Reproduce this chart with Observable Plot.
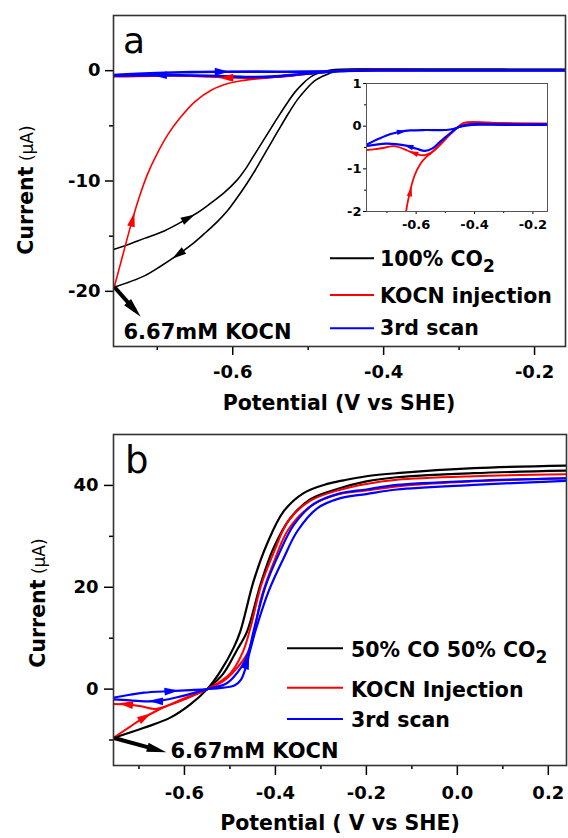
<!DOCTYPE html>
<html>
<head>
<meta charset="utf-8">
<script src="https://cdn.jsdelivr.net/npm/d3@7"></script>
<script src="https://cdn.jsdelivr.net/npm/@observablehq/plot@0.6"></script>
<style>
  html, body { margin: 0; padding: 0; background: #ffffff; }
  #wrap { position: relative; width: 568px; height: 838px; overflow: hidden; background:#fff; }
  #wrap svg { position: absolute; }
</style>
</head>
<body>
<div id="wrap"></div>
<script>
// ================= DATA =================
const seriesA = ["100% CO2", "KOCN injection", "3rd scan"];
const seriesB = ["50% CO 50% CO2", "KOCN Injection", "3rd scan"];
const seriesColors = ["#000000", "#ff0000", "#0000ff"];
const legendA = [["100% CO", "2"], ["KOCN injection", ""], ["3rd scan", ""]];
const legendB = [["50% CO 50% CO", "2"], ["KOCN Injection", ""], ["3rd scan", ""]];

// ticks
const aXTicks = [-0.6, -0.4, -0.2], aXMinor = [-0.7, -0.5, -0.3];
const aYTicks = [-20, -10, 0],     aYMinor = [-15, -5];
const bXTicks = [-0.6, -0.4, -0.2, 0.0, 0.2], bXMinor = [-0.7, -0.5, -0.3, -0.1, 0.1];
const bYTicks = [0, 20, 40],       bYMinor = [-10, 10, 30];
const insetXTicks = [-0.6, -0.4, -0.2], insetXMinor = [-0.7, -0.5, -0.3];
const insetYTicks = [-2, -1, 0, 1],     insetYMinor = [-1.5, -0.5, 0.5];

// Panel a : [potential (V vs SHE), current (uA)]
const aBlackCathodic = [[-0.159,0.1],[-0.30,0.12],[-0.42,0.12],[-0.453,0.1],[-0.462,0.0],[-0.470,-0.2],[-0.481,-0.5],[-0.492,-0.95],[-0.503,-1.7],[-0.514,-2.6],[-0.525,-3.75],[-0.536,-5.0],[-0.548,-6.4],[-0.559,-7.7],[-0.570,-9.0],[-0.581,-10.2],[-0.594,-11.5],[-0.607,-12.7],[-0.622,-13.8],[-0.638,-14.8],[-0.655,-15.8],[-0.673,-16.7],[-0.695,-17.7],[-0.717,-18.6],[-0.76,-19.7]];
const aBlackAnodic   = [[-0.76,-16.25],[-0.74,-15.8],[-0.717,-15.2],[-0.69,-14.5],[-0.665,-13.6],[-0.645,-12.8],[-0.629,-12.0],[-0.612,-11.1],[-0.594,-9.9],[-0.583,-8.9],[-0.572,-7.7],[-0.561,-6.5],[-0.550,-5.3],[-0.539,-4.1],[-0.528,-2.95],[-0.517,-1.9],[-0.506,-1.1],[-0.495,-0.5],[-0.483,-0.15],[-0.47,0.05],[-0.457,0.12],[-0.42,0.15],[-0.30,0.12],[-0.159,0.12]];
const aRedAnodic     = [[-0.757,-19.6],[-0.746,-16.8],[-0.735,-14.0],[-0.724,-11.5],[-0.713,-9.4],[-0.700,-7.5],[-0.686,-5.8],[-0.670,-4.3],[-0.650,-2.8],[-0.628,-1.75],[-0.605,-1.15],[-0.585,-0.88],[-0.565,-0.72],[-0.55,-0.64],[-0.522,-0.45],[-0.498,-0.29],[-0.475,-0.12],[-0.453,0.0],[-0.435,0.08],[-0.35,0.08],[-0.25,0.06],[-0.15,0.06]];
const aRedCathodic   = [[-0.15,0.06],[-0.30,0.07],[-0.435,0.08],[-0.453,0.0],[-0.475,-0.14],[-0.498,-0.29],[-0.522,-0.47],[-0.544,-0.60],[-0.570,-0.68],[-0.600,-0.65],[-0.630,-0.57],[-0.655,-0.50],[-0.68,-0.47],[-0.705,-0.50],[-0.74,-0.54],[-0.775,-0.56]];
const aBlueAnodic    = [[-0.775,-0.45],[-0.726,-0.29],[-0.69,-0.19],[-0.655,-0.13],[-0.62,-0.10],[-0.567,-0.09],[-0.498,-0.09],[-0.47,-0.06],[-0.453,-0.02],[-0.43,0.03],[-0.407,0.05],[-0.30,0.04],[-0.15,0.04]];
const aBlueCathodic  = [[-0.15,0.03],[-0.30,0.03],[-0.407,0.03],[-0.453,-0.02],[-0.475,-0.12],[-0.498,-0.25],[-0.52,-0.38],[-0.544,-0.52],[-0.570,-0.58],[-0.598,-0.53],[-0.632,-0.46],[-0.67,-0.42],[-0.704,-0.41],[-0.775,-0.47]];

// Panel b
const bBlackUpper    = [[0.24,43.9],[0.036,43.4],[-0.133,42.4],[-0.2,41.8],[-0.25,41.0],[-0.286,40.3],[-0.338,38.5],[-0.382,34.9],[-0.419,28.4],[-0.448,21.2],[-0.477,11.4],[-0.492,8.1],[-0.521,3.5],[-0.55,0],[-0.587,-3.0],[-0.631,-5.6],[-0.689,-7.6],[-0.76,-9.7]];
const bBlackLower    = [[-0.55,0],[-0.515,3.0],[-0.485,7.6],[-0.462,11.4],[-0.433,20.5],[-0.404,27.7],[-0.367,33.6],[-0.323,37.3],[-0.264,39.3],[-0.2,40.8],[-0.133,41.6],[0.036,42.4],[0.24,42.9]];
const bRedAnodic     = [[-0.76,-9.8],[-0.72,-7.4],[-0.689,-5.6],[-0.66,-4.2],[-0.616,-2.4],[-0.58,-1.1],[-0.55,0],[-0.514,1.6],[-0.484,4.2],[-0.462,7.0],[-0.448,10.7],[-0.431,18.0],[-0.402,25.3],[-0.372,31.3],[-0.323,35.9],[-0.264,38.2],[-0.2,39.0],[-0.133,39.8],[0.036,40.8],[0.24,41.4]];
const bRedCathodic   = [[0.24,42.2],[0.036,41.8],[-0.133,41.1],[-0.2,40.3],[-0.264,39.0],[-0.323,37.0],[-0.372,33.0],[-0.402,27.2],[-0.431,20.5],[-0.455,12.0],[-0.472,7.2],[-0.5,3.0],[-0.55,0],[-0.6,-2.0],[-0.635,-3.2],[-0.665,-3.9],[-0.695,-3.35],[-0.725,-3.0],[-0.76,-2.9]];
const bBlueAnodic    = [[-0.76,-1.75],[-0.72,-1.1],[-0.689,-0.7],[-0.631,-0.4],[-0.587,-0.2],[-0.55,0],[-0.514,0.3],[-0.49,0.7],[-0.476,1.8],[-0.466,4.0],[-0.456,7.5],[-0.442,12.0],[-0.415,19.2],[-0.382,25.7],[-0.352,31.0],[-0.308,35.5],[-0.257,37.5],[-0.2,38.3],[-0.133,39.2],[0.036,40.1],[0.24,40.9]];
const bBlueCathodic  = [[0.24,41.4],[0.036,40.9],[-0.133,40.1],[-0.2,39.2],[-0.26,38.4],[-0.315,36.4],[-0.36,32.2],[-0.39,27.0],[-0.423,19.9],[-0.448,11.4],[-0.46,7.0],[-0.475,4.3],[-0.506,1.2],[-0.55,0],[-0.616,-1.6],[-0.667,-2.4],[-0.72,-2.2],[-0.76,-2.0]];

// scan-direction arrowheads: [series index, potential, current, screen angle (deg)]
const aArrows     = [[2,-0.695,-0.41,270],[2,-0.616,-0.1,90],[1,-0.607,-0.64,270],[1,-0.733,-13.6,14],[0,-0.66,-13.4,62],[0,-0.671,-16.6,235]];
const insetArrows = [[2,-0.652,-0.13,80],[2,-0.624,-0.476,287],[1,-0.607,-0.63,290],[1,-0.62,-1.55,13]];
const bArrows     = [[2,-0.631,-0.4,85],[2,-0.66,-2.35,272],[2,-0.463,5.1,17],[1,-0.726,-3.0,278],[1,-0.689,-5.6,59]];
// injection annotation: start, tip, angle, label position
const aInjection = {v1:-0.757, i1:-19.6, v2:-0.722, i2:-22.3, angle:138, lv:-0.7448, li:-24.28, label:"6.67mM KOCN"};
const bInjection = {v1:-0.755, i1:-9.6,  v2:-0.640, i2:-12.4, angle:105, lv:-0.6308, li:-13.47, label:"6.67mM KOCN"};

// ================= HELPERS =================
const FONT = "DejaVu Sans, Verdana, sans-serif";
const fmt1 = d => d.toFixed(1);
const fmtInt = d => String(d);
const wrap = document.getElementById("wrap");

function toRows(branches, names) {
  return branches.flatMap(([s, key, pts]) => pts.map(([v, i]) => ({series: names[s], key: names[s] + key, v, i})));
}
function arrowRows(list, names) {
  return list.map(([s, v, i, angle]) => ({series: names[s], v, i, angle}));
}
const arrowHead = { draw(ctx, size) { const r = Math.sqrt(size / Math.PI);
  ctx.moveTo(0, -1.3 * r); ctx.lineTo(0.6 * r, 0.9 * r); ctx.lineTo(-0.6 * r, 0.9 * r); ctx.closePath(); } };
const tipHead = { draw(ctx, size) { const r = Math.sqrt(size / Math.PI);
  ctx.moveTo(0, 0); ctx.lineTo(0.55 * r, 2.3 * r); ctx.lineTo(-0.55 * r, 2.3 * r); ctx.closePath(); } };

function injectionMarks(a) {
  const t = 0.8;
  const shaft = [{x1: a.v1, y1: a.i1, x2: a.v1 + t * (a.v2 - a.v1), y2: a.i1 + t * (a.i2 - a.i1)}];
  return [
    Plot.link(shaft, {x1: "x1", y1: "y1", x2: "x2", y2: "y2", stroke: "#000", strokeWidth: 4}),
    Plot.dot([a], {x: "v2", y: "i2", symbol: tipHead, r: 8.5, fill: "#000", stroke: "none", rotate: a.angle}),
    Plot.text([a], {x: "lv", y: "li", text: "label", textAnchor: "start", lineAnchor: "bottom",
      fontSize: 21, fontWeight: "bold", fill: "#000"})
  ];
}
function seriesLines(rows, names, widths) {
  return names.map((n, k) => Plot.line(rows.filter(r => r.series === n),
    {x: "v", y: "i", z: "key", stroke: "series", strokeWidth: widths[k], curve: "catmull-rom", clip: true}));
}
function addText(svg, x, y, parts, opts = {}) {
  const t = d3.select(svg).append("text")
    .attr("x", x).attr("y", y)
    .attr("font-family", FONT)
    .attr("text-anchor", opts.anchor || "start")
    .attr("fill", "#000");
  if (opts.rotate) t.attr("transform", `rotate(${opts.rotate},${x},${y})`);
  for (const p of parts) {
    const s = t.append("tspan").text(p.text)
      .attr("font-size", p.size).attr("font-weight", p.weight || "bold");
    if (p.dy) s.attr("dy", p.dy);
  }
  return t;
}
function addLegend(svg, labels, x1, x2, tx, lineYs, baseYs) {
  const g = d3.select(svg).append("g");
  labels.forEach(([main, sub], k) => {
    g.append("line").attr("x1", x1).attr("x2", x2).attr("y1", lineYs[k]).attr("y2", lineYs[k])
      .attr("stroke", seriesColors[k]).attr("stroke-width", 2);
    const parts = [{text: main, size: 20.5}];
    if (sub) parts.push({text: sub, size: 17, dy: 6});
    addText(svg, tx, baseYs[k], parts);
  });
}
function place(svg, left, top) {
  svg.style.left = left + "px"; svg.style.top = top + "px";
  wrap.appendChild(svg); return svg;
}

// ================= PANEL A =================
const aRows = toRows([[0,"c",aBlackCathodic],[0,"a",aBlackAnodic],[1,"a",aRedAnodic],[1,"c",aRedCathodic],[2,"a",aBlueAnodic],[2,"c",aBlueCathodic]], seriesA);
const plotA = Plot.plot({
  width: 568, height: 420, marginLeft: 113, marginRight: 3, marginTop: 15, marginBottom: 74,
  style: {fontFamily: FONT, background: "transparent", color: "#000"},
  x: {domain: [-0.758, -0.159]},
  y: {domain: [-25, 5]},
  color: {domain: seriesA, range: seriesColors},
  marks: [
    Plot.axisX({ticks: aXTicks, tickSize: 9, tickPadding: 10, tickFormat: fmt1, fontSize: 18, fontWeight: "bold", strokeWidth: 1.5, label: null}),
    Plot.axisX({ticks: aXMinor, tickSize: 4, tickFormat: () => "", strokeWidth: 1.5, label: null}),
    Plot.axisY({ticks: aYTicks, tickSize: 8, tickPadding: 5, tickFormat: fmtInt, fontSize: 18, fontWeight: "bold", strokeWidth: 1.5, label: null}),
    Plot.axisY({ticks: aYMinor, tickSize: 4, tickFormat: () => "", strokeWidth: 1.5, label: null}),
    ...seriesLines(aRows, seriesA, [1.6, 1.6, 2.6]),
    Plot.dot(arrowRows(aArrows, seriesA), {x: "v", y: "i", fill: "series", stroke: "none", symbol: arrowHead, r: 6.5, rotate: "angle", clip: true}),
    ...injectionMarks(aInjection),
    Plot.frame({stroke: "#333", strokeWidth: 1.6})
  ]
});
place(plotA, 0, 0);
addText(plotA, 123, 53, [{text: "a", size: 36, weight: "normal"}]);
addText(plotA, 339, 410, [{text: "Potential (V vs SHE)", size: 20.5}], {anchor: "middle"});
addText(plotA, 33, 190, [{text: "Current", size: 20.5}, {text: " (μA)", size: 17, weight: "normal"}], {anchor: "middle", rotate: -90});
addLegend(plotA, legendA, 330, 374, 380, [258.3, 295, 328.3], [266, 303, 335]);

// ================= INSET =================
const plotInset = Plot.plot({
  width: 225, height: 161, marginLeft: 36, marginRight: 8, marginTop: 8, marginBottom: 25,
  style: {fontFamily: FONT, background: "transparent", color: "#000"},
  x: {domain: [-0.77, -0.15]},
  y: {domain: [-2, 1]},
  color: {domain: seriesA, range: seriesColors},
  marks: [
    Plot.frame({fill: "#fff", stroke: "none"}),
    Plot.axisX({ticks: insetXTicks, tickSize: 3, tickPadding: 5, tickFormat: fmt1, fontSize: 13, fontWeight: "bold", label: null}),
    Plot.axisX({ticks: insetXMinor, tickSize: 2, tickFormat: () => "", label: null}),
    Plot.axisY({ticks: insetYTicks, tickSize: 3, tickPadding: 2, tickFormat: fmtInt, fontSize: 13, fontWeight: "bold", label: null}),
    Plot.axisY({ticks: insetYMinor, tickSize: 2, tickFormat: () => "", label: null}),
    ...seriesLines(aRows.filter(r => r.series !== seriesA[0]), seriesA.slice(1), [1.8, 2.2]),
    Plot.dot(arrowRows(insetArrows, seriesA), {x: "v", y: "i", fill: "series", stroke: "none", symbol: arrowHead, r: 4.5, rotate: "angle", clip: true}),
    Plot.frame({stroke: "#555", strokeWidth: 1})
  ]
});
place(plotInset, 330, 75);

// ================= PANEL B =================
const bRows = toRows([[0,"u",bBlackUpper],[0,"l",bBlackLower],[1,"a",bRedAnodic],[1,"c",bRedCathodic],[2,"a",bBlueAnodic],[2,"c",bBlueCathodic]], seriesB);
const plotB = Plot.plot({
  width: 568, height: 418, marginLeft: 113, marginRight: 2, marginTop: 14, marginBottom: 73,
  style: {fontFamily: FONT, background: "transparent", color: "#000"},
  x: {domain: [-0.756, 0.24]},
  y: {domain: [-15, 50]},
  color: {domain: seriesB, range: seriesColors},
  marks: [
    Plot.axisX({ticks: bXTicks, tickSize: 10, tickPadding: 11, tickFormat: fmt1, fontSize: 18, fontWeight: "bold", strokeWidth: 1.5, label: null}),
    Plot.axisX({ticks: bXMinor, tickSize: 4, tickFormat: () => "", strokeWidth: 1.5, label: null}),
    Plot.axisY({ticks: bYTicks, tickSize: 9, tickPadding: 6, tickFormat: fmtInt, fontSize: 18, fontWeight: "bold", strokeWidth: 1.5, label: null}),
    Plot.axisY({ticks: bYMinor, tickSize: 4, tickFormat: () => "", strokeWidth: 1.5, label: null}),
    ...seriesLines(bRows, seriesB, [2.2, 2.0, 2.2]),
    Plot.dot(arrowRows(bArrows, seriesB), {x: "v", y: "i", fill: "series", stroke: "none", symbol: arrowHead, r: 6.5, rotate: "angle", clip: true}),
    ...injectionMarks(bInjection),
    Plot.frame({stroke: "#333", strokeWidth: 1.6})
  ]
});
place(plotB, 0, 420);
addText(plotB, 125, 53, [{text: "b", size: 37, weight: "normal"}]);
addText(plotB, 340, 410, [{text: "Potential ( V vs SHE)", size: 20.5}], {anchor: "middle"});
addText(plotB, 45, 183, [{text: "Current", size: 20.5}, {text: " (μA)", size: 17, weight: "normal"}], {anchor: "middle", rotate: -90});
addLegend(plotB, legendB, 287, 343, 351, [228.3, 267.7, 299], [237, 276.7, 306.7]);
</script>
</body>
</html>
